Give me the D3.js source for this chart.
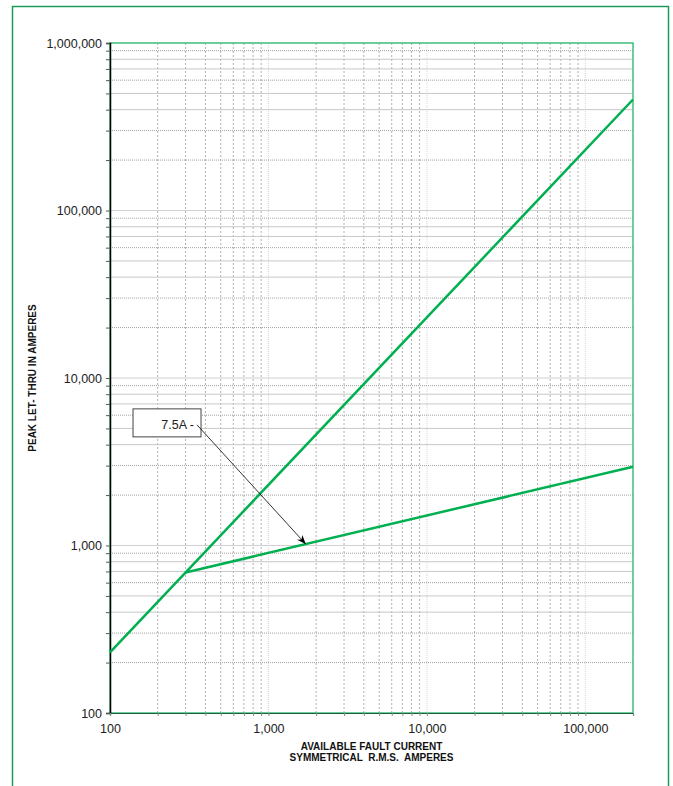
<!DOCTYPE html>
<html>
<head>
<meta charset="utf-8">
<script src="https://cdn.jsdelivr.net/npm/d3@7"></script>
<style>
  html, body { margin: 0; padding: 0; background: #fff; }
  svg { display: block; font-family: "Liberation Sans", Arial, sans-serif; }
</style>
</head>
<body>
<svg id="chart" width="673" height="786"></svg>
<script>
// ---- data ----
const xMajorTicks = [100, 1000, 10000, 100000];
const yMajorTicks = [100, 1000, 10000, 100000, 1000000];
const minorMultiples = [2, 3, 4, 5, 6, 7, 8, 9];
const dottedMultiples = [2, 3, 6, 9];

const unlimitedCurrent = [100, 200000];
const unlimitedLetThru = [230, 460000];

const fuseCurrent = [300, 200000];
const fuseLetThru = [690, 2950];

const annotationText = "7.5A";
const annotationAnchor = [370, 5250];   // data coords of leader start
const annotationTarget = [1720, 1020];  // data coords of arrow tip

// ---- layout ----
const m = { left: 110, right: 633, top: 43, bottom: 713 };

const svg = d3.select("#chart");
const x = d3.scaleLog().domain([100, 200000]).range([m.left, m.right]);
const y = d3.scaleLog().domain([100, 1000000]).range([m.bottom, m.top]);

const fmt = d3.format(",");

// outer frame
svg.append("rect")
  .attr("x", 12.5).attr("y", 6.5)
  .attr("width", 656).attr("height", 800)
  .attr("fill", "#fff").attr("stroke", "#1e9a5e").attr("stroke-width", 1.5);

function minors(domain) {
  const out = [];
  for (let d = 100; d < domain[1]; d *= 10) {
    minorMultiples.forEach(k => { const v = d * k; if (v < domain[1]) out.push({ v, k }); });
  }
  return out;
}
const xMinors = minors(x.domain());
const yMinors = minors(y.domain());

const grid = svg.append("g");

grid.selectAll(".xminor").data(xMinors).join("line")
  .attr("x1", d => x(d.v)).attr("x2", d => x(d.v))
  .attr("y1", m.top).attr("y2", m.bottom)
  .attr("stroke", "#b0b0b0").attr("stroke-width", 1)
  .attr("stroke-dasharray", "2,2");
grid.selectAll(".xmajor").data(xMajorTicks.slice(1)).join("line")
  .attr("x1", d => x(d)).attr("x2", d => x(d))
  .attr("y1", m.top).attr("y2", m.bottom)
  .attr("stroke", "#d6d6d6").attr("stroke-width", 1)
  .attr("stroke-dasharray", "1,1");

grid.selectAll(".yminor").data(yMinors).join("line")
  .attr("x1", m.left).attr("x2", m.right)
  .attr("y1", d => y(d.v)).attr("y2", d => y(d.v))
  .attr("stroke", d => dottedMultiples.includes(d.k) ? "#a0a0a0" : "#c8c8c8")
  .attr("stroke-width", 1)
  .attr("stroke-dasharray", d => dottedMultiples.includes(d.k) ? "1,1" : null);
grid.selectAll(".ymajor").data(yMajorTicks.slice(1, -1)).join("line")
  .attr("x1", m.left).attr("x2", m.right)
  .attr("y1", d => y(d)).attr("y2", d => y(d))
  .attr("stroke", "#d0d0d0").attr("stroke-width", 1);

svg.append("rect")
  .attr("x", m.left).attr("y", m.top)
  .attr("width", m.right - m.left).attr("height", m.bottom - m.top)
  .attr("fill", "none").attr("stroke", "#3cbf7a").attr("stroke-width", 1.5);

const yAxis = d3.axisLeft(y)
  .tickValues(yMajorTicks.concat(yMinors.map(d => d.v)))
  .tickSize(4).tickPadding(4)
  .tickFormat(d => yMajorTicks.includes(d) ? fmt(d) : "");
const gy = svg.append("g").attr("transform", `translate(${m.left},0)`).call(yAxis);
gy.select(".domain").attr("stroke", "#000").attr("stroke-width", 1.5);
gy.selectAll(".tick line").attr("stroke", "#555");
gy.selectAll(".tick text").attr("font-size", "12.5px").attr("fill", "#222")
  .attr("font-family", "Liberation Sans, Arial, sans-serif");

const xAxis = d3.axisBottom(x)
  .tickValues(xMajorTicks.concat(xMinors.map(d => d.v), [200000]))
  .tickSize(3).tickPadding(8)
  .tickFormat(d => xMajorTicks.includes(d) ? fmt(d) : "");
const gx = svg.append("g").attr("transform", `translate(0,${m.bottom})`).call(xAxis);
gx.select(".domain").attr("stroke", "#1d5e3a").attr("stroke-width", 1.2);
gx.selectAll(".tick line").attr("stroke", "#888");
gx.selectAll(".tick text").attr("font-size", "12.5px").attr("fill", "#222")
  .attr("font-family", "Liberation Sans, Arial, sans-serif");

const line = d3.line().x(d => x(d[0])).y(d => y(d[1]));
const plot = svg.append("g");
plot.append("path")
  .datum(d3.zip(unlimitedCurrent, unlimitedLetThru))
  .attr("d", line).attr("fill", "none")
  .attr("stroke", "#00b050").attr("stroke-width", 2.5);
plot.append("path")
  .datum(d3.zip(fuseCurrent, fuseLetThru))
  .attr("d", line).attr("fill", "none")
  .attr("stroke", "#00b050").attr("stroke-width", 2.5);

svg.append("text")
  .attr("x", (m.left + m.right) / 2).attr("y", 750)
  .attr("text-anchor", "middle").attr("font-size", "10px").attr("font-weight", "bold")
  .attr("fill", "#111").text("AVAILABLE FAULT CURRENT");
svg.append("text")
  .attr("x", (m.left + m.right) / 2).attr("y", 760.5)
  .attr("text-anchor", "middle").attr("font-size", "10px").attr("font-weight", "bold")
  .attr("fill", "#111").style("white-space", "pre")
  .text("SYMMETRICAL  R.M.S.  AMPERES");
svg.append("text")
  .attr("transform", `translate(35.5,${(m.top + m.bottom) / 2}) rotate(-90)`)
  .attr("text-anchor", "middle").attr("font-size", "10px").attr("font-weight", "bold")
  .attr("fill", "#111").text("PEAK LET- THRU IN AMPERES");

const defs = svg.append("defs");
defs.append("marker")
  .attr("id", "arrow").attr("viewBox", "0 0 10 10")
  .attr("refX", 10).attr("refY", 5)
  .attr("markerWidth", 9).attr("markerHeight", 9)
  .attr("markerUnits", "userSpaceOnUse")
  .attr("orient", "auto")
  .append("path").attr("d", "M0,1 L10,5 L0,9 L3,5 Z").attr("fill", "#000");

const ax = x(annotationAnchor[0]), ay = y(annotationAnchor[1]);
const ann = svg.append("g");
ann.append("rect")
  .attr("x", ax - 67).attr("y", ay - 16).attr("width", 68).attr("height", 28)
  .attr("fill", "#fff").attr("stroke", "#444").attr("stroke-width", 1);
ann.append("text")
  .attr("x", ax - 6).attr("y", ay + 4)
  .attr("text-anchor", "end").attr("font-size", "12.5px").attr("fill", "#222")
  .attr("font-family", "Liberation Sans, Arial, sans-serif")
  .style("white-space", "pre")
  .text(annotationText + " -");
ann.append("line")
  .attr("x1", ax - 3).attr("y1", ay)
  .attr("x2", x(annotationTarget[0])).attr("y2", y(annotationTarget[1]))
  .attr("stroke", "#000").attr("stroke-width", 0.8)
  .attr("marker-end", "url(#arrow)");
</script>
</body>
</html>
